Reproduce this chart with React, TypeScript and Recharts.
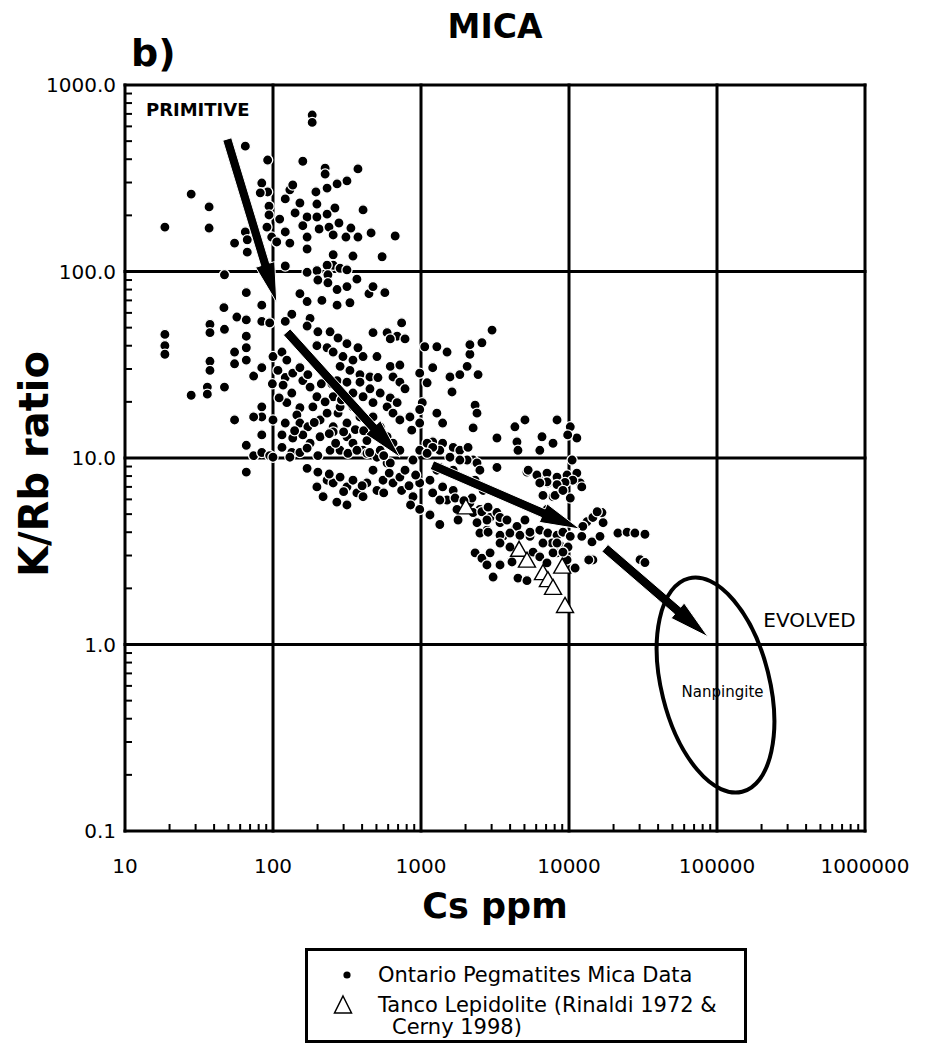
import React from 'react';
import {
  ScatterChart,
  Scatter,
  XAxis,
  YAxis,
  ReferenceLine,
  ReferenceDot,
} from 'recharts';

const FONT = '"DejaVu Sans", Verdana, sans-serif';

// Log decades for both axes
const xMajor = [10, 100, 1000, 10000, 100000, 1000000];
const yMajor = [0.1, 1, 10, 100, 1000];
const minorSteps = [2, 3, 4, 5, 6, 7, 8, 9];

// Ontario pegmatite micas: [Cs ppm, K/Rb ratio]
const ontarioMica: [number, number][] = [
  [184, 690], [184, 630], [65, 470], [92, 396], [159, 390], [225, 358], [225, 333], [375, 355],
  [316, 306], [271, 295], [232, 280], [195, 267], [84, 298], [92, 267], [82, 264], [130, 274],
  [136, 291], [121, 245], [152, 233], [198, 230], [262, 219], [406, 214], [28, 260], [37, 222],
  [18.6, 173], [37, 171], [94, 224], [94, 201], [111, 191], [141, 206], [170, 196], [198, 196],
  [232, 203], [91, 173], [121, 163], [159, 176], [205, 169], [239, 173], [279, 182], [336, 171],
  [460, 161], [669, 155], [65, 163], [55, 142], [67, 148], [67, 127], [98, 153], [106, 144],
  [130, 142], [170, 153], [170, 132], [255, 157], [311, 153], [375, 153], [255, 123], [347, 121],
  [546, 120], [121, 107], [198, 101], [255, 108], [284, 104], [232, 108],
  [170, 99], [235, 96], [316, 102], [47, 96], [201, 90], [235, 87], [271, 80], [316, 83],
  [369, 91], [66, 77], [152, 76], [170, 69], [214, 70], [271, 66], [331, 68], [445, 76],
  [474, 83], [570, 77], [46.6, 64], [84, 66], [57, 57], [66, 55], [84, 54], [95, 53],
  [134, 59], [121, 54], [178, 56], [170, 51], [37.5, 52], [37.5, 47], [47, 49], [18.6, 46],
  [18.6, 40], [18.6, 36], [66, 45], [66, 39], [37.5, 33], [37.5, 29.5], [36, 24], [36, 22],
  [28, 21.7], [47, 24], [55, 37], [55, 32], [66, 33.5], [55, 16], [74, 27.5], [84, 30.5],
  [84, 18.8], [84, 16.6], [74, 16.6], [66, 11.7], [66, 8.4], [74, 10.3], [84, 10.7], [95, 10.3],
  [84, 13.3],
  [100, 35], [115, 37], [124, 33.5], [108, 29.5], [121, 27], [136, 28.5], [152, 30.5], [159, 26],
  [172, 28], [99, 25], [117, 24.6], [134, 22.3], [178, 24], [198, 21.3], [152, 18.6], [186, 18.8],
  [124, 19.8], [100, 16], [121, 15.4], [145, 17], [152, 15.4], [172, 14.7], [208, 16], [232, 17.4],
  [255, 14.7], [275, 17.4], [316, 15.4], [115, 13.3], [136, 12.8], [159, 13.3], [178, 12], [208, 13],
  [255, 13.8], [316, 13], [347, 12], [406, 11], [115, 11.4], [134, 10.7], [152, 10.7], [170, 11.3],
  [201, 10.3], [243, 11], [284, 11], [321, 10.6], [369, 11], [431, 10.6], [504, 10.1], [590, 9.4],
  [100, 10.1], [130, 10.1],
  [201, 47.5], [243, 47.5], [275, 44], [316, 41], [375, 39], [198, 40], [232, 39], [255, 37],
  [297, 35], [347, 33.5], [406, 35], [504, 35], [284, 31], [331, 29.5], [387, 28], [452, 27.2],
  [512, 27], [620, 31], [720, 31.5], [647, 27.2], [720, 25.5], [780, 23.5], [474, 47], [590, 47],
  [740, 53], [690, 45], [780, 43.5], [620, 43.5], [387, 25.5], [452, 23.5], [530, 22.3], [620, 21],
  [690, 19.8], [347, 22.3], [406, 21.3], [474, 19.8], [590, 18.8], [647, 17.4], [720, 16], [842, 16.6],
  [866, 14.1], [980, 15.4],
  [1020, 19.8], [1100, 25.3], [980, 28.5], [1200, 30.5], [1060, 39.5], [1280, 39.5], [1500, 37],
  [1570, 27.2], [1830, 28], [2050, 31], [2140, 36], [2140, 40.5], [2580, 41.5], [3020, 48.5],
  [2430, 28], [1620, 22.6], [2320, 19.2], [2390, 17.4], [2250, 14.5], [3260, 12.8], [4310, 14.7],
  [5040, 16], [4450, 12.2], [4520, 11], [6570, 13], [7800, 12], [8300, 16], [10200, 14.7],
  [11300, 12.8], [9800, 13.3], [10500, 9.75], [6350, 11], [1280, 17.4], [1400, 15.4], [1200, 12.2],
  [1400, 12], [1650, 11.4], [1830, 11], [2080, 11.4], [2250, 9.75], [3260, 8.9],
  [170, 8.8], [201, 8.4], [198, 7.0], [232, 7.6], [218, 6.2], [255, 7.35], [284, 7.9], [316, 7.0],
  [347, 7.6], [369, 6.5], [316, 5.6], [406, 6.2], [431, 7.35], [504, 6.7], [474, 8.6], [554, 7.6],
  [647, 7.35], [720, 7.9], [740, 6.7], [883, 6.2], [980, 7.35], [1150, 7.6], [1200, 6.5], [1500, 5.95],
  [1340, 4.4], [1750, 5.3], [1650, 6.7], [2140, 5.75], [2500, 5.3], [2930, 4.8], [2790, 4.1],
  [3420, 4.5], [3580, 3.8], [4310, 4.1], [5450, 3.8], [5200, 8.4], [6180, 7.9], [7200, 7.35],
  [7800, 6.2], [7100, 5.3], [2320, 7.6], [2630, 6.7], [620, 9.4], [883, 9.75], [980, 11],
  [1100, 12], [1340, 11], [1570, 10.1],
  [2050, 9.75], [2390, 9.4], [2500, 8.6], [5300, 8.6], [6070, 8.1], [7100, 8.3], [8300, 7.9],
  [9700, 8.1], [11300, 8.3], [11900, 7.35], [10600, 7.6], [9400, 7.4], [8300, 7.2], [7100, 7.45],
  [6350, 7.35], [6670, 6.3], [8050, 6.3], [10200, 6.1], [9100, 6.7], [1700, 6.1], [1340, 5.95],
  [1780, 4.65], [2210, 6.1], [2250, 5.1], [2580, 5.15], [2840, 5.45], [3260, 5.1], [2790, 4.65],
  [2390, 4.5], [3420, 4.8], [3810, 4.65], [4450, 4.3], [5040, 4.65], [2500, 3.96], [2840, 4.0],
  [3420, 3.85], [3990, 3.96], [4660, 3.85], [5450, 4.0],
  [6350, 4.1], [7200, 3.96], [8300, 3.85], [9100, 4.0], [10200, 3.8], [12200, 3.8], [14300, 3.55],
  [16200, 3.8], [13200, 4.55], [14500, 4.8], [16700, 5.1], [17000, 4.5], [7680, 3.5], [8700, 3.4],
  [9850, 3.33], [6670, 3.5],
  [21400, 3.96], [24700, 4.0], [27900, 3.96], [32600, 3.9], [30200, 2.85], [32600, 2.75],
  [2320, 3.1], [2580, 2.9], [2790, 2.67], [3070, 2.3], [3420, 2.67], [2930, 3.1], [3420, 3.5],
  [3990, 3.33], [4120, 2.77], [4520, 2.27], [5200, 2.2], [5720, 3.13], [6350, 2.95], [7100, 2.74],
  [8300, 3.1], [9700, 2.84], [11000, 2.57], [14500, 2.84],
  [12200, 7.0], [15500, 5.15], [12400, 4.3], [8300, 3.5], [7800, 3.1], [9100, 3.13], [13600, 2.84],
  [1200, 11.4], [1830, 9.75], [1650, 8.6], [1340, 8.9], [1100, 10.6], [980, 18.2],
  [271, 26], [316, 25.5], [255, 21.3], [284, 18.8], [347, 18.8], [387, 16.6], [474, 16.6], [530, 14.7],
  [590, 13], [647, 12], [720, 11], [530, 11], [431, 12.4],
  [780, 8.6], [920, 8.1], [1280, 8.6], [850, 5.6], [980, 5.3], [1150, 4.95],
  [110, 21], [140, 14], [190, 15.5], [225, 20], [240, 13.5], [265, 12], [300, 13.8], [290, 20.5],
  [212, 25], [250, 25], [360, 14.2], [410, 14], [450, 10.7], [560, 10.3], [240, 8.2], [300, 6.6],
  [270, 5.8], [400, 7.1], [560, 6.5], [610, 8.3], [830, 7.1], [1400, 7.0], [1900, 7.8], [1950, 5.9],
];

// Tanco lepidolite (Rinaldi 1972 & Cerny 1998): [Cs ppm, K/Rb ratio]
const tancoLepidolite: [number, number][] = [
  [2010, 5.4], [4600, 3.2], [5200, 2.8], [6670, 2.4], [7200, 2.2], [7800, 2.0], [9000, 2.6], [9400, 1.6],
];

// Fractionation trend arrows, [from, to] as [Cs, K/Rb]
const trendArrows: [number, number][][] = [
  [[49, 513], [106, 68]],
  [[124, 47.4], [721, 10.1]],
  [[1186, 9.17], [11860, 4.16]],
  [[17500, 3.29], [86900, 1.1]],
];

const xTicks = [...xMajor, ...xMajor.slice(0, -1).flatMap(d => minorSteps.map(m => d * m))];
const yTicks = [...yMajor, ...yMajor.slice(0, -1).flatMap(d => minorSteps.map(m => d * m))];

const toPoints = (rows: [number, number][]) => rows.map(([cs, krb]) => ({ cs, krb }));

// Axis ticks: labels for decades, short inward marks for the rest
const XTick = ({ x, y, payload }: any) =>
  xMajor.includes(payload.value) ? (
    <text x={x} y={y + 35} textAnchor="middle" dominantBaseline="central" fontFamily={FONT} fontSize={20} fill="#000">
      {payload.value}
    </text>
  ) : (
    <line x1={x} x2={x} y1={y} y2={y - 7} stroke="#000" strokeWidth={2} />
  );

const YTick = ({ x, y, payload }: any) =>
  yMajor.includes(payload.value) ? (
    <text x={x - 9} y={y} textAnchor="end" dominantBaseline="central" fontFamily={FONT} fontSize={20} fill="#000">
      {payload.value.toFixed(1)}
    </text>
  ) : (
    <line x1={x} x2={x + 7} y1={y} y2={y} stroke="#000" strokeWidth={2} />
  );

const MicaDot = ({ cx, cy }: any) => (
  <circle cx={cx} cy={cy} r={5.1} fill="#000" stroke="#fff" strokeWidth={1.3} />
);

const OpenTriangle = ({ cx, cy }: any) => (
  <polygon
    points={`${cx},${cy - 9} ${cx + 8.5},${cy + 6} ${cx - 8.5},${cy + 6}`}
    fill="#fff"
    stroke="#000"
    strokeWidth={1.4}
  />
);

const Arrow = ({ x1, y1, x2, y2 }: any) => {
  const len = Math.hypot(x2 - x1, y2 - y1);
  const ux = (x2 - x1) / len;
  const uy = (y2 - y1) / len;
  const nx = -uy;
  const ny = ux;
  const head = 40;
  const hw = 10;
  const sw = 4.6;
  const bx = x2 - ux * head;
  const by = y2 - uy * head;
  const pts = [
    [x1 + nx * sw, y1 + ny * sw],
    [bx + nx * sw, by + ny * sw],
    [bx + nx * hw, by + ny * hw],
    [x2, y2],
    [bx - nx * hw, by - ny * hw],
    [bx - nx * sw, by - ny * sw],
    [x1 - nx * sw, y1 - ny * sw],
  ];
  return <polygon points={pts.map(p => p.join(',')).join(' ')} fill="#000" stroke="#fff" strokeWidth={1} />;
};

const plotText = (label: string, size: number, bold = false) => ({ cx, cy }: any) => (
  <text
    x={cx}
    y={cy}
    textAnchor="middle"
    dominantBaseline="central"
    fontFamily={FONT}
    fontSize={size}
    fontWeight={bold ? 700 : 400}
    fill="#000"
  >
    {label}
  </text>
);

export default function App() {
  return (
    <div style={{ position: 'relative', width: 919, height: 1038, fontFamily: FONT, color: '#000' }}>
      <ScatterChart width={919} height={1038} margin={{ top: 77, right: 62, bottom: 175, left: 37 }}>
        <XAxis
          type="number"
          dataKey="cs"
          scale="log"
          domain={[10, 1000000]}
          ticks={xTicks}
          interval={0}
          tick={(p: any) => <XTick {...p} />}
          tickLine={false}
          axisLine={false}
          tickSize={0}
          tickMargin={0}
          height={40}
          allowDataOverflow
        />
        <YAxis
          type="number"
          dataKey="krb"
          scale="log"
          domain={[0.1, 1000]}
          ticks={yTicks}
          interval={0}
          tick={(p: any) => <YTick {...p} />}
          tickLine={false}
          axisLine={false}
          tickSize={0}
          tickMargin={0}
          width={80}
          allowDataOverflow
        />

        {/* grid + frame */}
        {xMajor.map(v => (
          <ReferenceLine key={`gx${v}`} x={v} stroke="#000" strokeWidth={3} strokeLinecap="square" zIndex={-100} />
        ))}
        {yMajor.map(v => (
          <ReferenceLine key={`gy${v}`} y={v} stroke="#000" strokeWidth={3} strokeLinecap="square" zIndex={-100} />
        ))}

        <Scatter data={toPoints(ontarioMica)} shape={MicaDot} isAnimationActive={false} zIndex={600} />
        <Scatter data={toPoints(tancoLepidolite)} shape={OpenTriangle} isAnimationActive={false} zIndex={650} />

        {trendArrows.map(([a, b], i) => (
          <ReferenceLine
            key={`arrow${i}`}
            segment={[{ x: a[0], y: a[1] }, { x: b[0], y: b[1] }]}
            shape={Arrow}
            zIndex={700}
          />
        ))}

        {/* Nanpingite field */}
        <ReferenceDot
          x={97700}
          y={0.606}
          r={1}
          zIndex={800}
          shape={({ cx, cy }: any) => (
            <ellipse
              cx={cx}
              cy={cy}
              rx={54}
              ry={110}
              transform={`rotate(-14 ${cx} ${cy})`}
              fill="none"
              stroke="#000"
              strokeWidth={4}
            />
          )}
        />
        <ReferenceDot x={31} y={735} r={1} zIndex={800} shape={plotText('PRIMITIVE', 18, true)} />
        <ReferenceDot x={422000} y={1.35} r={1} zIndex={800} shape={plotText('EVOLVED', 20)} />
        <ReferenceDot x={109000} y={0.556} r={1} zIndex={800} shape={plotText('Nanpingite', 15)} />
      </ScatterChart>

      <div style={{ position: 'absolute', left: 487, top: 2, transform: 'translateX(-50%)', fontSize: 33, fontWeight: 700, lineHeight: 1 }}>
        MICA
      </div>
      <div style={{ position: 'absolute', left: 123, top: 26, fontSize: 38, fontWeight: 700, lineHeight: 1 }}>
        b)
      </div>
      <div
        style={{
          position: 'absolute',
          left: 487,
          top: 898,
          transform: 'translate(-50%, -50%)',
          fontSize: 35,
          fontWeight: 700,
          lineHeight: 1,
          whiteSpace: 'nowrap',
        }}
      >
        Cs ppm
      </div>
      <div
        style={{
          position: 'absolute',
          left: 26,
          top: 456,
          transform: 'translate(-50%, -50%) rotate(-90deg)',
          fontSize: 40,
          fontWeight: 700,
          lineHeight: 1,
          whiteSpace: 'nowrap',
        }}
      >
        K/Rb ratio
      </div>

      {/* legend */}
      <div
        style={{
          position: 'absolute',
          left: 297,
          top: 940,
          width: 442,
          height: 95,
          border: '3px solid #000',
          boxSizing: 'border-box',
          background: '#fff',
        }}
      >
        <svg width={436} height={89} style={{ display: 'block' }}>
          <circle cx={39} cy={24} r={3.6} fill="#000" />
          <text x={70} y={24} dominantBaseline="central" fontFamily={FONT} fontSize={21} fill="#000">
            Ontario Pegmatites Mica Data
          </text>
          <polygon points="35,45 43.5,62 26.5,62" fill="#fff" stroke="#000" strokeWidth={1.5} />
          <text x={70} y={54} dominantBaseline="central" fontFamily={FONT} fontSize={21} fill="#000">
            Tanco Lepidolite (Rinaldi 1972 &amp;
          </text>
          <text x={84} y={76} dominantBaseline="central" fontFamily={FONT} fontSize={21} fill="#000">
            Cerny 1998)
          </text>
        </svg>
      </div>
    </div>
  );
}
